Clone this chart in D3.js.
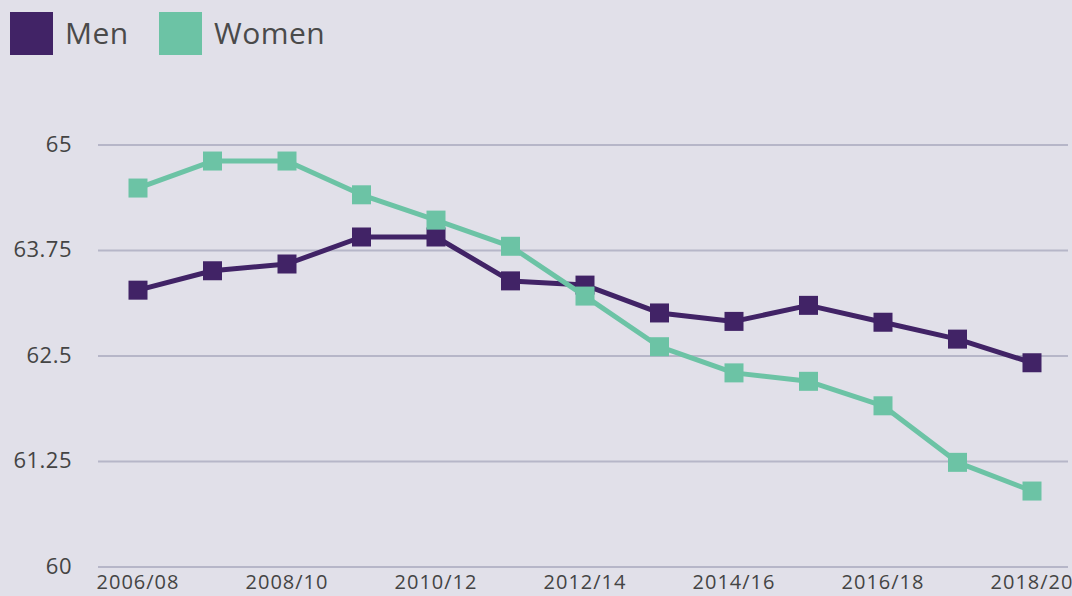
<!DOCTYPE html>
<html>
<head>
<meta charset="utf-8">
<script src="https://cdn.jsdelivr.net/npm/d3@7"></script>
<style>
  html, body { margin: 0; padding: 0; background: #e1e0e9; overflow: hidden; }
  svg { display: block; font-family: "Open Sans", "Liberation Sans", sans-serif; }
</style>
</head>
<body>
<svg id="vis" width="1072" height="596"></svg>
<script>
const years = ["2006/08", "2007/09", "2008/10", "2009/11", "2010/12", "2011/13", "2012/14",
    "2013/15", "2014/16", "2015/17", "2016/18", "2017/19", "2018/20"];
const men = [63.28, 63.51, 63.59, 63.91, 63.91, 63.39, 63.34, 63.01, 62.91, 63.10, 62.90, 62.70, 62.42];
const women = [64.49, 64.81, 64.81, 64.41, 64.11, 63.80, 63.21, 62.61, 62.30, 62.20, 61.91, 61.24, 60.90];
const yTicks = [60, 61.25, 62.5, 63.75, 65];
const xTickLabels = ["2006/08", "2008/10", "2010/12", "2012/14", "2014/16", "2016/18", "2018/20"];

const series = [
    { name: "Men", values: men, color: "#412366" },
    { name: "Women", values: women, color: "#6cc3a5" }
];

const svg = d3.select("#vis");

// scales
const x = d3.scalePoint()
    .domain(years)
    .range([138, 1032]);
const y = d3.scaleLinear()
    .domain([60, 65])
    .range([567, 145]);

// gridlines + y labels
const grid = svg.append("g");
grid.selectAll("line")
    .data(yTicks)
    .enter().append("line")
    .attr("x1", 98)
    .attr("x2", 1068)
    .attr("y1", d => y(d))
    .attr("y2", d => y(d))
    .attr("stroke", "#b6b6c8")
    .attr("stroke-width", 2);

grid.selectAll("text")
    .data(yTicks)
    .enter().append("text")
    .attr("x", 72)
    .attr("y", d => y(d))
    .attr("dy", "0.3em")
    .attr("text-anchor", "end")
    .attr("font-size", "22px")
    .attr("letter-spacing", "0.5px")
    .attr("fill", "#444")
    .text(d => d);

// x labels
svg.append("g").selectAll("text")
    .data(xTickLabels)
    .enter().append("text")
    .attr("x", d => x(d))
    .attr("y", 589)
    .attr("text-anchor", "middle")
    .attr("font-size", "20px")
    .attr("letter-spacing", "1px")
    .attr("fill", "#444")
    .text(d => d);

// lines and markers
const line = d3.line()
    .x((d, i) => x(years[i]))
    .y(d => y(d));

series.forEach(s => {
    svg.append("path")
        .datum(s.values)
        .attr("fill", "none")
        .attr("stroke", s.color)
        .attr("stroke-width", 5)
        .attr("stroke-linejoin", "round")
        .attr("d", line);

    svg.append("g").selectAll("rect")
        .data(s.values)
        .enter().append("rect")
        .attr("x", (d, i) => x(years[i]) - 9.5)
        .attr("y", d => y(d) - 9.5)
        .attr("width", 19)
        .attr("height", 19)
        .attr("fill", s.color);
});

// legend
const legend = svg.append("g").selectAll("g")
    .data(series)
    .enter().append("g")
    .attr("transform", (d, i) => "translate(" + (10 + i * 149) + ",12)");

legend.append("rect")
    .attr("width", 43)
    .attr("height", 43)
    .attr("fill", d => d.color);

legend.append("text")
    .attr("x", 55)
    .attr("y", 32)
    .attr("font-size", "30px")
    .attr("letter-spacing", "0.5px")
    .attr("fill", "#4a4a4a")
    .text(d => d.name);
</script>
</body>
</html>
